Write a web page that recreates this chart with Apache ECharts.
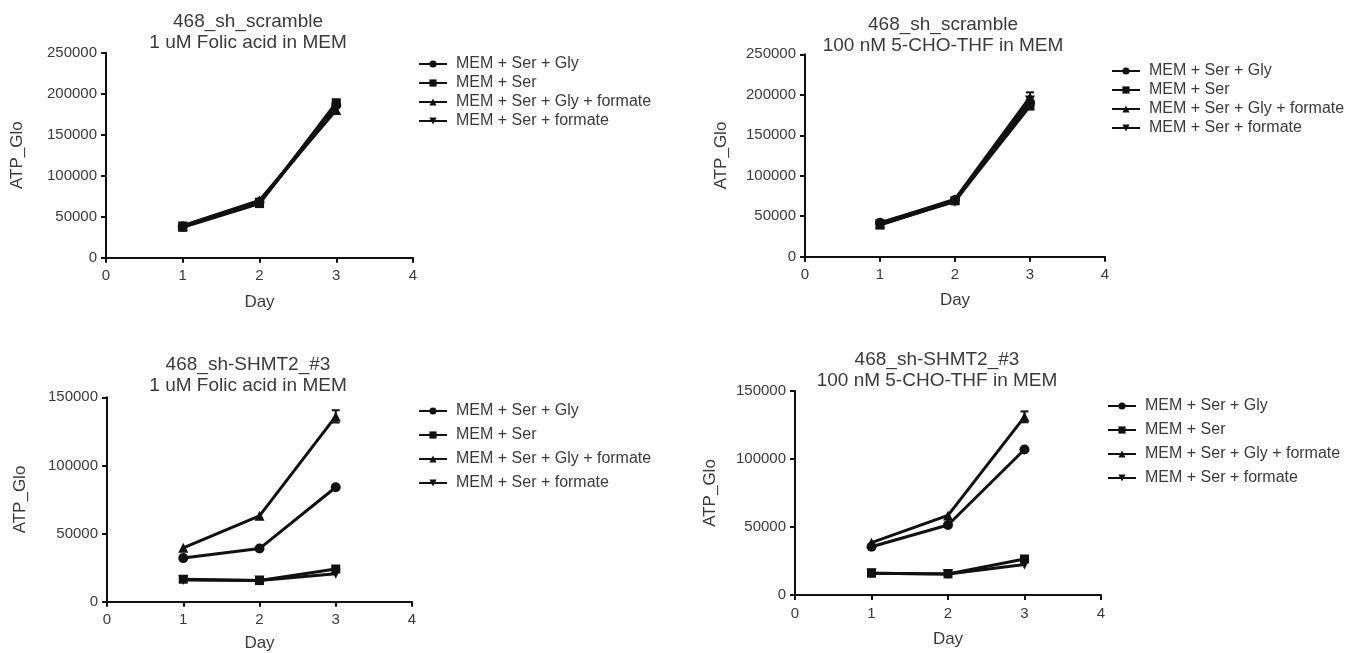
<!DOCTYPE html>
<html>
<head>
<meta charset="utf-8">
<title>ATP_Glo growth curves</title>
<script src="https://cdn.jsdelivr.net/npm/echarts@6/dist/echarts.min.js"></script>
<style>
  html, body { margin: 0; padding: 0; background: #fff; }
  #chart { width: 1349px; height: 653px; }
</style>
</head>
<body>
<div id="chart"></div>
<script>
const days = [1, 2, 3];
const seriesNames = [
  "MEM + Ser + Gly",
  "MEM + Ser",
  "MEM + Ser + Gly + formate",
  "MEM + Ser + formate"
];
const titles = [
  "468_sh_scramble\n1 uM Folic acid in MEM",
  "468_sh_scramble\n100 nM 5-CHO-THF in MEM",
  "468_sh-SHMT2_#3\n1 uM Folic acid in MEM",
  "468_sh-SHMT2_#3\n100 nM 5-CHO-THF in MEM"
];
const yMax = [250000, 250000, 150000, 150000];

// panel 1: scramble, folic acid
const scrFolicGly = [38000, 68000, 186000];
const scrFolicSer = [37000, 66000, 189000];
const scrFolicGlyFormate = [39000, 70000, 180000];
const scrFolicSerFormate = [38000, 67000, 183000];
// panel 2: scramble, 5-CHO-THF
const scrChoGly = [42000, 70000, 190000];
const scrChoSer = [39000, 69000, 186000];
const scrChoGlyFormate = [41000, 71000, 197000];
const scrChoSerFormate = [40000, 68000, 193000];
// panel 3: SHMT2 knockdown, folic acid
const shFolicGly = [32000, 39000, 84000];
const shFolicSer = [16500, 15500, 24000];
const shFolicGlyFormate = [39500, 63000, 136000];
const shFolicSerFormate = [16000, 15500, 20500];
// panel 4: SHMT2 knockdown, 5-CHO-THF
const shChoGly = [35500, 51500, 107000];
const shChoSer = [16000, 15500, 26500];
const shChoGlyFormate = [38500, 58500, 131000];
const shChoSerFormate = [16000, 15500, 22500];

// error (SEM) on the "Gly + formate" series, by day
const scrChoGlyFormateErr = [0, 0, 6000];
const shFolicGlyFormateErr = [0, 0, 4500];
const shChoGlyFormateErr = [0, 0, 4000];

const panels = [
  { values: [scrFolicGly, scrFolicSer, scrFolicGlyFormate, scrFolicSerFormate], err: null },
  { values: [scrChoGly, scrChoSer, scrChoGlyFormate, scrChoSerFormate], err: scrChoGlyFormateErr },
  { values: [shFolicGly, shFolicSer, shFolicGlyFormate, shFolicSerFormate], err: shFolicGlyFormateErr },
  { values: [shChoGly, shChoSer, shChoGlyFormate, shChoSerFormate], err: shChoGlyFormateErr }
];

const symbols = ["circle", "rect", "triangle", "path://M0,0L10,0L5,9Z"];

// layout per panel
const grids = [
  { left: 106, top: 52.7, width: 307, height: 205 },
  { left: 805, top: 54.3, width: 300, height: 202.4 },
  { left: 107, top: 397.3, width: 305, height: 204.4 },
  { left: 795, top: 391, width: 306, height: 204 }
];
const titlePos = [[248, 11.5], [943, 14], [248, 354.5], [937, 349]];
const legendPos = [
  { left: 418, top: 56, itemGap: 3 },
  { left: 1111, top: 63, itemGap: 3 },
  { left: 418, top: 403, itemGap: 8 },
  { left: 1107, top: 398, itemGap: 8 }
];
const yNameGap = [80, 75, 78, 76];
const xNameGap = [36, 35, 33, 36];

const ink = "#111";
const textColor = "#3a3a3a";

const chart = echarts.init(document.getElementById("chart"));

const option = {
  animation: false,
  textStyle: { fontFamily: "Liberation Sans, Arial, sans-serif" },
  title: titles.map((t, i) => ({
    text: t,
    left: titlePos[i][0],
    top: titlePos[i][1],
    textAlign: "center",
    padding: 0,
    textStyle: { fontSize: 19, lineHeight: 21, fontWeight: "normal", color: textColor }
  })),
  legend: legendPos.map(p => ({
    data: seriesNames,
    orient: "vertical",
    left: p.left,
    top: p.top,
    itemGap: p.itemGap,
    itemWidth: 28,
    itemHeight: 9,
    padding: 0,
    selectedMode: false,
    textStyle: { fontSize: 16, color: textColor, padding: [0, 0, 0, 4] }
  })),
  grid: grids,
  xAxis: grids.map((g, i) => ({
    type: "value",
    gridIndex: i,
    min: 0,
    max: 4,
    interval: 1,
    name: "Day",
    nameLocation: "middle",
    nameGap: xNameGap[i],
    nameTextStyle: { fontSize: 17, color: textColor },
    axisLine: { show: true, onZero: false, lineStyle: { color: ink, width: 2 } },
    axisTick: { show: true, length: 5, lineStyle: { color: ink, width: 2 } },
    axisLabel: { fontSize: 15, color: textColor, margin: 11 },
    splitLine: { show: false }
  })),
  yAxis: grids.map((g, i) => ({
    type: "value",
    gridIndex: i,
    min: 0,
    max: yMax[i],
    interval: 50000,
    name: "ATP_Glo",
    nameLocation: "middle",
    nameGap: yNameGap[i],
    nameTextStyle: { fontSize: 17, color: textColor },
    axisLine: { show: true, onZero: false, lineStyle: { color: ink, width: 2 } },
    axisTick: { show: true, length: 5, lineStyle: { color: ink, width: 2 } },
    axisLabel: { fontSize: 15, color: textColor, margin: 9, formatter: v => String(v) },
    splitLine: { show: false }
  })),
  series: []
};

panels.forEach((panel, p) => {
  panel.values.forEach((vals, s) => {
    option.series.push({
      name: seriesNames[s],
      type: "line",
      xAxisIndex: p,
      yAxisIndex: p,
      data: days.map((d, k) => [d, vals[k]]),
      symbol: symbols[s],
      symbolSize: s === 1 ? 9 : 10,
      lineStyle: { color: ink, width: 3 },
      itemStyle: { color: ink },
      z: 3
    });
  });
  if (panel.err) {
    const mean = panel.values[2];
    const errData = [];
    days.forEach((d, k) => {
      if (panel.err[k] > 0) errData.push([d, mean[k] - panel.err[k], mean[k] + panel.err[k]]);
    });
    option.series.push({
      type: "custom",
      xAxisIndex: p,
      yAxisIndex: p,
      data: errData,
      z: 2,
      renderItem: function (params, api) {
        const lo = api.coord([api.value(0), api.value(1)]);
        const hi = api.coord([api.value(0), api.value(2)]);
        const w = 4;
        const style = { stroke: ink, lineWidth: 2 };
        return {
          type: "group",
          children: [
            { type: "line", shape: { x1: lo[0], y1: lo[1], x2: hi[0], y2: hi[1] }, style: style },
            { type: "line", shape: { x1: hi[0] - w, y1: hi[1], x2: hi[0] + w, y2: hi[1] }, style: style },
            { type: "line", shape: { x1: lo[0] - w, y1: lo[1], x2: lo[0] + w, y2: lo[1] }, style: style }
          ]
        };
      }
    });
  }
});

chart.setOption(option);
window.addEventListener("resize", () => chart.resize());
</script>
</body>
</html>
